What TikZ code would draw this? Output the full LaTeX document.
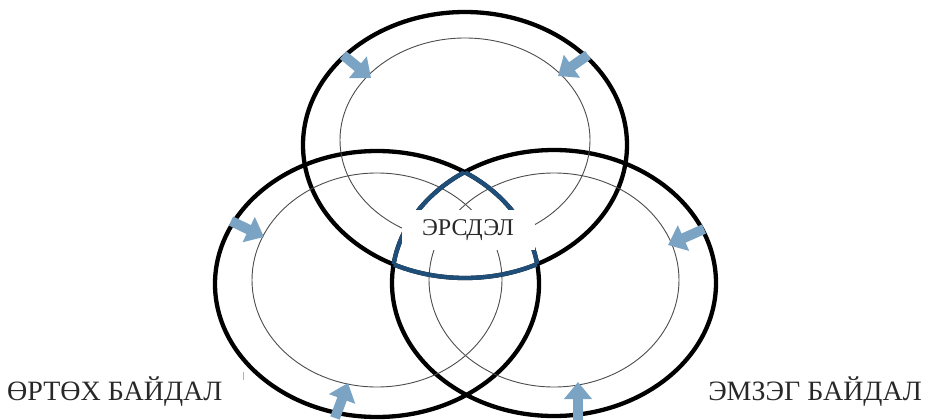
\documentclass[tikz,border=0pt]{standalone}
\usepackage{fontspec}
\setmainfont{Liberation Serif}
\usetikzlibrary{arrows.meta}
\definecolor{riskblue}{RGB}{31,78,121}
\definecolor{arrowblue}{RGB}{122,163,196}
\definecolor{labelgray}{RGB}{40,40,40}
\tikzset{
 outer/.style={black, line width=4.3pt},
 inner/.style={black!70, line width=0.9pt},
 riskline/.style={riskblue, line width=4.3pt},
 push/.style={arrowblue, line width=10pt, -{Triangle[width=27pt,length=17pt]}},
 lbl/.style={text=labelgray, font=\fontsize{28}{28}\selectfont, inner sep=0pt}
}

\begin{document}
\begin{tikzpicture}[x=1pt,y=-1pt]
\useasboundingbox (0,0) rectangle (932,420);
\coordinate (top) at (465,145);
\coordinate (left) at (377,284);
\coordinate (right) at (554,283);
\foreach \c in {top,left,right} {
 \draw[outer] (\c) ellipse [x radius=162pt, y radius=133pt];
};
\draw[inner] (465,140) ellipse [x radius=125pt, y radius=102pt];
\draw[inner] (377,280) ellipse [x radius=125pt, y radius=107pt];
\draw[inner] (554,280) ellipse [x radius=125pt, y radius=107pt];
\foreach \a/\b/\c in {top/left/right, left/right/top, right/top/left} {
 \begin{scope}
 \clip (\b) ellipse [x radius=162pt, y radius=133pt];
 \clip (\c) ellipse [x radius=162pt, y radius=133pt];
 \draw[riskline] (\a) ellipse [x radius=162pt, y radius=133pt];
 \end{scope}
};
\draw[push] (343,55) -- (371,78);
\draw[push] (588,55) -- (558,76);
\draw[push] (231,221) -- (264,237);
\draw[push] (704,229) -- (668,245);
\draw[push] (335,418) -- (348,383);
\draw[push] (578,420) -- (578,382);
\draw[gray!60, line width=0.6pt] (243,372) -- (243,380);
\node[fill=white, minimum width=133pt, minimum height=40pt, inner sep=0pt,
 text=labelgray, font=\fontsize{24}{24}\selectfont] (risk) at (468,230) {ЭРСДЭЛ};
\node[lbl, anchor=base west] (exposure) at (7,400) {ӨРТӨХ БАЙДАЛ};
\node[lbl, anchor=base east] (vulnerability) at (922,400) {ЭМЗЭГ БАЙДАЛ};
\end{tikzpicture}
\end{document}
